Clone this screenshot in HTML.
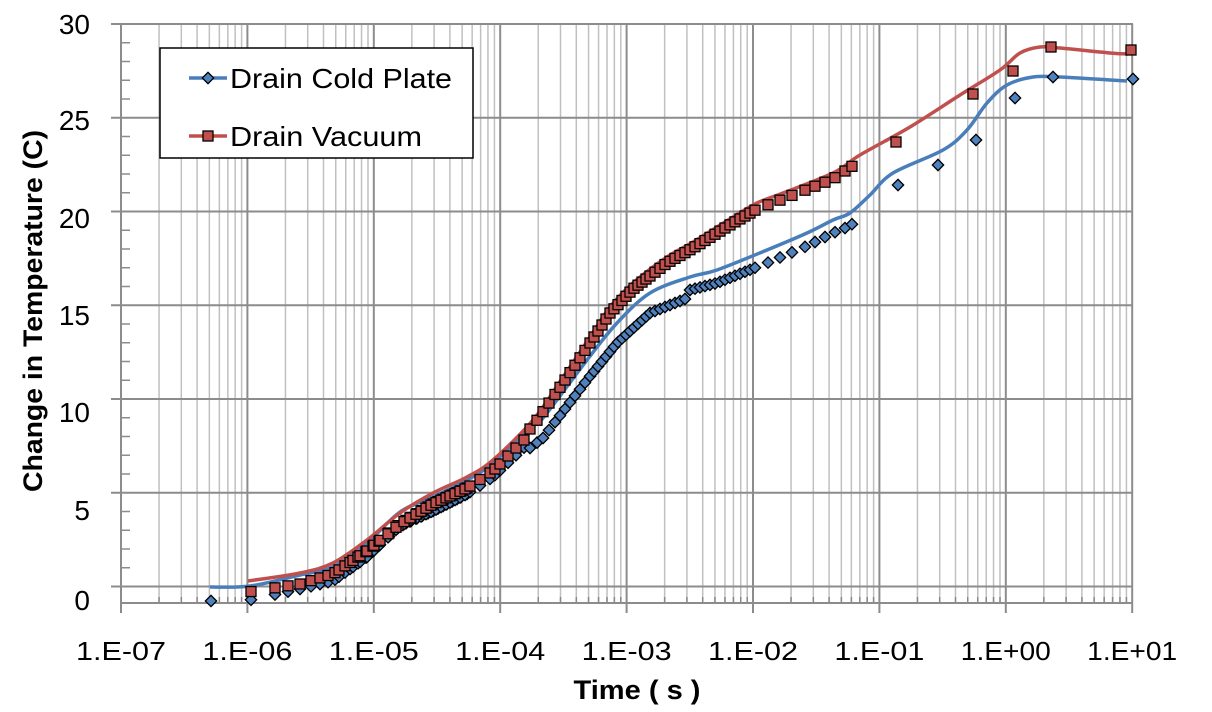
<!DOCTYPE html>
<html><head><meta charset="utf-8"><style>
body{margin:0;background:#fff;}
svg{display:block;font-family:"Liberation Sans",sans-serif;}
</style></head><body>
<svg id="s" width="1212" height="712" viewBox="0 0 1212 712" xmlns="http://www.w3.org/2000/svg">
<g id="grid"></g>
<g id="series"></g>
<rect x="160" y="48" width="313" height="110" fill="#fff" stroke="#000" stroke-width="1.5"/>
<line x1="189" y1="78" x2="227" y2="78" stroke="#4a7ebb" stroke-width="3.5"/>
<rect x="204" y="74" width="8" height="8" transform="rotate(45 208 78)" fill="#4f81bd" stroke="#000" stroke-width="1.3"/>
<text x="230" y="88" font-size="28" textLength="222" lengthAdjust="spacingAndGlyphs">Drain Cold Plate</text>
<line x1="189" y1="136" x2="227" y2="136" stroke="#c0504d" stroke-width="3.5"/>
<rect x="203" y="131" width="10" height="10" fill="#c0504d" stroke="#000" stroke-width="1.3"/>
<text x="230" y="146" font-size="28" textLength="192" lengthAdjust="spacingAndGlyphs">Drain Vacuum</text>
<text x="637" y="699" font-size="27" font-weight="bold" text-anchor="middle" textLength="127" lengthAdjust="spacingAndGlyphs">Time ( s )</text>
<text transform="translate(42 311) rotate(-90)" font-size="27" font-weight="bold" text-anchor="middle" textLength="362" lengthAdjust="spacingAndGlyphs">Change in Temperature (C)</text>
</svg>
<script>
var NS="http://www.w3.org/2000/svg";
function el(p,t,a){var e=document.createElementNS(NS,t);for(var k in a)e.setAttribute(k,a[k]);p.appendChild(e);return e;}
var g=document.getElementById('grid'),s=document.getElementById('s'),se=document.getElementById('series');
var X0=121,DX=126.4;
function xp(d,m){return X0+DX*(d+Math.log10(m));}
for(var d=0;d<8;d++){for(var m=2;m<10;m++){var x=xp(d,m);el(g,'line',{x1:x,x2:x,y1:24,y2:603,stroke:'#c0c0c0','stroke-width':1.5});el(g,'line',{x1:x,x2:x,y1:597,y2:603,stroke:'#888','stroke-width':1.5});}}
for(var d=0;d<=8;d++){var x=xp(d,1);el(g,'line',{x1:x,x2:x,y1:24,y2:613,stroke:'#8c8c8c','stroke-width':2});}
for(var v=0;v<=30;v++){var y=586.5-v*18.75;
 if(v%5==0){el(g,'line',{x1:111,x2:1133,y1:y,y2:y,stroke:'#8c8c8c','stroke-width':2});}
 else el(g,'line',{x1:121,x2:130,y1:y,y2:y,stroke:'#8c8c8c','stroke-width':1.5});}
el(g,'line',{x1:121,x2:121,y1:24,y2:603,stroke:'#8c8c8c','stroke-width':2});
el(g,'line',{x1:121,x2:1133,y1:603,y2:603,stroke:'#8c8c8c','stroke-width':2});
var yl=[[0,600],[5,510],[10,412],[15,315],[20,218],[25,120],[30,24]];
yl.forEach(function(a){var t=el(s,'text',{x:90,y:a[1]+10,'font-size':28,'text-anchor':'end'});t.textContent=a[0];});
var xl=['1.E-07','1.E-06','1.E-05','1.E-04','1.E-03','1.E-02','1.E-01','1.E+00','1.E+01'];
xl.forEach(function(l,i){var t=el(s,'text',{x:xp(i,1),y:660,'font-size':26,'text-anchor':'middle',textLength:90,lengthAdjust:'spacingAndGlyphs'});t.textContent=l;});
var red=[[248,581],[300,573],[333,563],[367,540],[400,513],[433,493],[467,477],[493,460],[533,420],[563,377],[590,337],[610,307],[633,283],[667,257],[693,242],[733,217],[757,203],[783,193],[833,173],[860,155],[910,127],[960,95],[1000,70],[1020,53],[1040,47],[1060,48],[1110,53],[1128,54]];
var blue=[[210,587],[250,586],[300,575],[333,567],[367,543],[400,512],[433,497],[467,480],[493,463],[530,428],[543,418],[587,360],[617,323],[650,293],[690,277],[717,270],[767,250],[807,233],[833,220],[850,213],[870,195],[893,173],[943,150],[967,130],[987,103],[1007,85],[1033,77],[1060,77],[1110,80],[1127,81]];
function smooth(p){var d='M'+p[0][0]+','+p[0][1];for(var i=0;i<p.length-1;i++){var p0=p[Math.max(i-1,0)],p1=p[i],p2=p[i+1],p3=p[Math.min(i+2,p.length-1)];
 var c1x=p1[0]+(p2[0]-p0[0])/6,c1y=p1[1]+(p2[1]-p0[1])/6,c2x=p2[0]-(p3[0]-p1[0])/6,c2y=p2[1]-(p3[1]-p1[1])/6;
 d+=' C'+c1x+','+c1y+' '+c2x+','+c2y+' '+p2[0]+','+p2[1];}return d;}
el(se,'path',{d:smooth(blue),fill:'none',stroke:'#4a7ebb','stroke-width':3.5,'stroke-linejoin':'round'});
el(se,'path',{d:smooth(red),fill:'none',stroke:'#c0504d','stroke-width':3.5,'stroke-linejoin':'round'});
function interp(p,x){for(var i=1;i<p.length;i++){if(x<=p[i][0]){var a=p[i-1],b=p[i];return a[1]+(b[1]-a[1])*(x-a[0])/(b[0]-a[0]);}}return p[p.length-1][1];}
var xs=[211,251,275,288,300,311,320,328,335,339,345,350,353,358,360,366,367,373,374,379,380,389,388,398,396,406,404,411,410,417,416,422,421,428,426,433,431,438,436,443,441,447,446,452,450,457,455,461,460,467,465,470,480,490,495,500,508,516,524,530,537,543,549,555,560,565,570,575,580,585,590,594,598,602,606,610,614,618,622,626,630,634,638,642,646,650,655,660,665,670,675,680,685,690,695,700,705,710,715,720,725,730,735,740,745,750,755,768,780,792,805,815,825,835,845,852];
var bm=[],rm=[];
xs.forEach(function(x){
 var ob=x<530?14:(x<690?20:13); bm.push([x,interp(blue,Math.max(x,210))+ob]);
 if(x>=248){var orr=x<530?11:6; rm.push([x,Math.min(interp(red,x)+orr,595)]);}
});
[[898,185],[938,165],[976,140],[1015,98],[1053,77],[1133,79]].forEach(function(p){bm.push(p);});
[[896,142],[973,94],[1013,71],[1051,47],[1131,50]].forEach(function(p){rm.push(p);});
bm.forEach(function(p){el(se,'rect',{x:p[0]-4,y:p[1]-4,width:8,height:8,transform:'rotate(45 '+p[0]+' '+p[1]+')',fill:'#4f81bd',stroke:'#000','stroke-width':1.3});});
rm.forEach(function(p){el(se,'rect',{x:p[0]-5,y:p[1]-5,width:10,height:10,fill:'#c0504d',stroke:'#000','stroke-width':1.3});});
</script>
</body></html>
